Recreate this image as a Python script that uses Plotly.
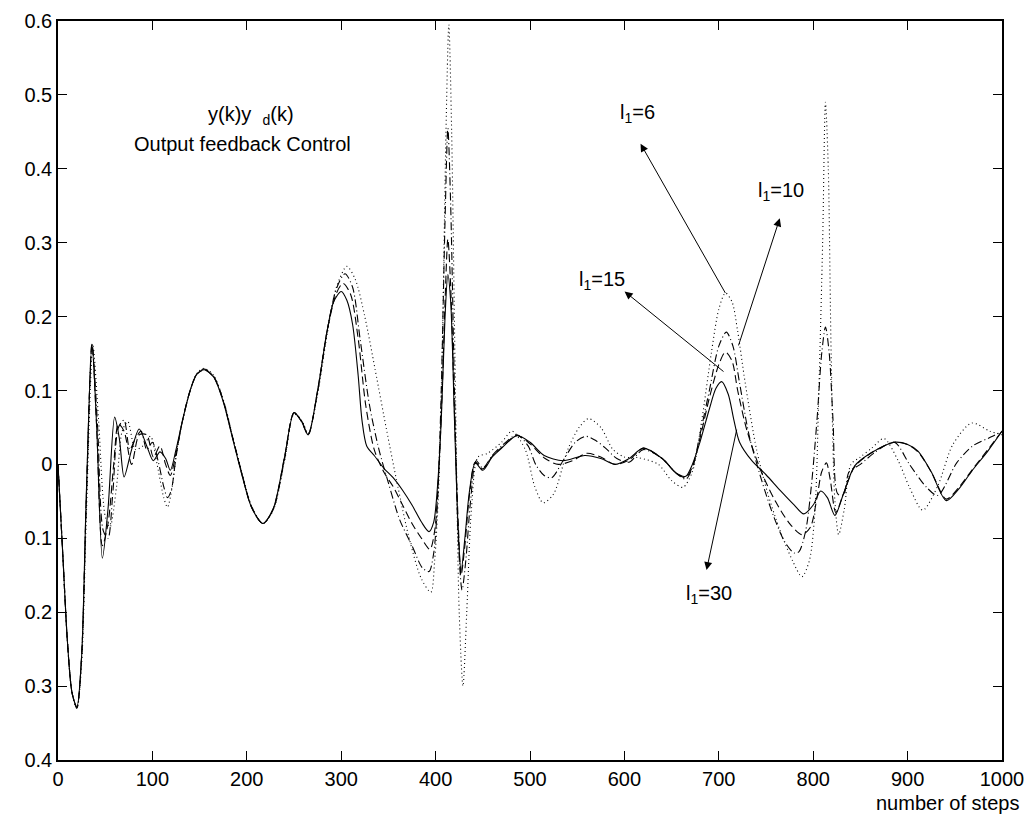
import plotly.graph_objects as go

# ---------------- data ----------------
x_l30 = [0,5,10,15,20,25,30,36,41,47,53,60,65,70,78,86,94,101,108,114,119,125,132,140,147,155,165,175,185,195,205,217,228,240,250,258,265,275,285,292,300,306,312,318,322,327,335,345,355,365,375,385,393,398,402,406,410,413,416,420,424,427,431,436,442,450,460,470,486,500,515,535,558,575,590,605,620,640,655,665,672,680,690,697,703,710,716,722,735,750,765,780,790,800,808,815,823,832,844,862,886,900,911,925,941,955,968,985,1000]
y_l30 = [0,-0.12,-0.24,-0.31,-0.328,-0.26,-0.04,0.163,0.05,-0.127,-0.06,0.064,0.035,-0.017,0.02,0.048,0.025,0.005,0.017,0.008,-0.008,0.02,0.06,0.1,0.122,0.128,0.118,0.085,0.035,-0.015,-0.058,-0.08,-0.06,0.01,0.07,0.058,0.04,0.1,0.18,0.22,0.234,0.222,0.19,0.12,0.06,0.025,0.012,-0.005,-0.018,-0.035,-0.055,-0.078,-0.091,-0.078,-0.03,0.06,0.2,0.257,0.22,0.06,-0.09,-0.145,-0.1,-0.035,0.002,-0.008,0.01,0.022,0.039,0.03,0.012,0.005,0.012,0.008,0.0,0.008,0.022,0.008,-0.012,-0.016,0.0,0.03,0.075,0.103,0.112,0.095,0.06,0.03,0.005,-0.014,-0.035,-0.055,-0.067,-0.055,-0.036,-0.045,-0.069,-0.04,-0.002,0.016,0.03,0.027,0.018,-0.01,-0.049,-0.032,-0.009,0.018,0.045]

x_l15 = [0,5,10,15,20,25,30,36,41,47,53,59,64,70,78,86,94,101,108,114,119,125,132,140,147,155,165,175,185,195,205,217,228,240,250,258,265,275,285,295,302,310,318,326,335,345,355,365,375,385,394,399,403,407,410,413,416,420,424,427,431,436,442,450,460,470,486,500,516,530,545,560,575,590,605,620,640,655,665,672,680,690,700,707,714,720,730,745,760,775,788,797,804,809,814,818,824,832,844,862,886,900,911,925,941,955,968,985,1000]
y_l15 = [0,-0.12,-0.24,-0.31,-0.329,-0.26,-0.045,0.163,0.05,-0.11,-0.08,0.0,0.055,0.045,0.0,0.04,0.04,0.01,0.025,0.0,-0.015,0.015,0.06,0.1,0.122,0.128,0.118,0.086,0.036,-0.014,-0.058,-0.08,-0.06,0.01,0.07,0.058,0.04,0.1,0.18,0.232,0.245,0.23,0.17,0.08,0.02,-0.01,-0.03,-0.055,-0.08,-0.1,-0.115,-0.09,-0.02,0.1,0.22,0.305,0.24,0.07,-0.08,-0.15,-0.11,-0.04,0.003,-0.006,0.011,0.023,0.039,0.028,0.008,0.0,0.005,0.015,0.01,0.0,0.006,0.022,0.008,-0.012,-0.018,-0.003,0.035,0.09,0.135,0.152,0.14,0.1,0.045,-0.01,-0.05,-0.08,-0.095,-0.085,-0.045,-0.01,0.002,-0.02,-0.065,-0.04,-0.003,0.016,0.03,0.027,0.017,-0.01,-0.047,-0.03,-0.008,0.02,0.045]

x_l10 = [0,5,10,15,20,25,30,36,42,48,53,58,64,70,76,82,88,94,100,106,112,116,120,125,132,140,147,155,165,175,185,195,205,217,228,240,250,258,265,275,285,295,304,312,320,330,340,350,362,375,386,393,398,402,406,410,413,416,420,424,428,432,437,443,450,460,470,486,498,506,515,523,535,548,559,570,580,592,605,620,640,655,665,672,680,690,700,708,715,722,732,745,758,770,780,785,792,798,804,809,813,817,821,826,832,838,850,865,886,902,920,932,952,969,990,1000]
y_l10 = [0,-0.12,-0.24,-0.31,-0.33,-0.26,-0.05,0.163,0.05,-0.09,-0.1,-0.04,0.05,0.06,0.02,0.035,0.045,0.02,0.03,0.005,-0.03,-0.045,-0.035,0.01,0.06,0.1,0.122,0.129,0.119,0.087,0.037,-0.013,-0.057,-0.08,-0.061,0.007,0.07,0.059,0.041,0.098,0.18,0.238,0.258,0.24,0.17,0.08,0.02,-0.025,-0.075,-0.11,-0.14,-0.145,-0.12,-0.05,0.1,0.33,0.455,0.35,0.1,-0.1,-0.17,-0.13,-0.05,0.005,-0.005,0.012,0.025,0.04,0.025,0.0,-0.015,-0.018,0.005,0.03,0.038,0.032,0.022,0.008,0.003,0.02,0.008,-0.012,-0.02,-0.005,0.04,0.1,0.16,0.179,0.16,0.11,0.04,-0.02,-0.07,-0.105,-0.12,-0.118,-0.09,-0.03,0.06,0.15,0.186,0.15,0.06,-0.04,-0.042,-0.01,0.0,0.016,0.03,0.0,-0.031,-0.042,0.002,0.025,0.038,0.045]

x_l6 = [0,5,10,15,20,25,30,37,43,50,55,62,68,74,82,90,98,105,112,116,121,126,132,140,147,155,165,175,185,195,205,217,228,240,250,258,265,275,285,295,306,315,325,336,348,360,372,385,395,399,403,407,411,414,417,421,425,429,433,438,445,455,470,481,495,505,514,525,540,552,562,575,588,600,615,636,650,662,672,682,692,700,707,714,720,728,740,752,765,778,788,796,802,806,810,813,816,819,823,827,833,840,850,862,875,890,902,916,932,948,968,987,1000]
y_l6 = [0,-0.12,-0.24,-0.31,-0.33,-0.27,-0.07,0.16,0.06,-0.07,-0.085,-0.03,0.045,0.058,0.02,0.025,0.038,0.0,-0.045,-0.058,-0.03,0.02,0.06,0.1,0.123,0.13,0.12,0.088,0.038,-0.012,-0.056,-0.08,-0.062,0.005,0.068,0.06,0.042,0.095,0.175,0.24,0.268,0.25,0.2,0.128,0.047,-0.03,-0.1,-0.155,-0.173,-0.13,-0.04,0.15,0.45,0.595,0.45,0.1,-0.2,-0.3,-0.2,-0.06,0.01,0.015,0.03,0.045,0.02,-0.03,-0.052,-0.04,0.02,0.05,0.062,0.05,0.02,0.01,0.009,0.0,-0.022,-0.031,-0.01,0.06,0.15,0.21,0.232,0.22,0.18,0.11,0.02,-0.04,-0.09,-0.13,-0.152,-0.13,-0.06,0.1,0.3,0.49,0.4,0.15,-0.05,-0.095,-0.06,0.0,0.01,0.022,0.035,0.005,-0.031,-0.062,-0.029,0.027,0.056,0.045,0.04]

x_ticks = [0,100,200,300,400,500,600,700,800,900,1000]
y_ticks = [-0.4,-0.3,-0.2,-0.1,0,0.1,0.2,0.3,0.4,0.5,0.6]
y_ticktext = ["0.4","0.3","0.2","0.1","0","0.1","0.2","0.3","0.4","0.5","0.6"]

label_text = ["l<sub>1</sub>=6", "l<sub>1</sub>=10", "l<sub>1</sub>=15", "l<sub>1</sub>=30"]
label_x = [613.5, 765.7, 575.9, 689.1]
label_y = [0.475, 0.369, 0.249, -0.176]
arrow_tip_x = [617.1, 764.6, 600.2, 687.0]
arrow_tip_y = [0.434, 0.333, 0.234, -0.143]
arrow_tail_x = [707.8, 720.4, 706.6, 719.3]
arrow_tail_y = [0.230, 0.159, 0.124, 0.049]

FONT = "Liberation Sans, Arial, Helvetica, sans-serif"
FS = 20

fig = go.Figure()
series = [
    (x_l6, y_l6, "1px,3px", "l1=6"),
    (x_l10, y_l10, "8px,3px,1px,3px", "l1=10"),
    (x_l15, y_l15, "8px,4px", "l1=15"),
    (x_l30, y_l30, "solid", "l1=30"),
]
for xs, ys, dash, name in series:
    fig.add_trace(go.Scatter(x=xs, y=ys, mode="lines", name=name,
                             line=dict(color="black", width=1.1, dash=dash, shape="spline", smoothing=0.8),
                             hoverinfo="skip"))

annotations = []
for t, lx, ly in zip(label_text, label_x, label_y):
    annotations.append(dict(x=lx, y=ly, xref="x", yref="y", text=t, showarrow=False,
                            font=dict(family=FONT, size=FS, color="black")))
for tx, ty, ax, ay in zip(arrow_tip_x, arrow_tip_y, arrow_tail_x, arrow_tail_y):
    annotations.append(dict(x=tx, y=ty, ax=ax, ay=ay, xref="x", yref="y", axref="x", ayref="y",
                            text="", showarrow=True, arrowhead=2, arrowsize=1.6, arrowwidth=1,
                            arrowcolor="black", standoff=0, startstandoff=0))
annotations.append(dict(x=204.7, y=0.472, xref="x", yref="y",
                        text="y(k)y\u00a0\u00a0<sub>d</sub>(k)", showarrow=False,
                        font=dict(family=FONT, size=FS, color="black")))
annotations.append(dict(x=195.7, y=0.434, xref="x", yref="y",
                        text="Output feedback Control", showarrow=False,
                        font=dict(family=FONT, size=FS, color="black")))
annotations.append(dict(x=1.0, y=0, xref="paper", yref="paper", xanchor="right", yanchor="top",
                        yshift=-30, xshift=19,
                        text="number of steps", showarrow=False,
                        font=dict(family=FONT, size=FS, color="black")))

fig.update_layout(
    width=1034, height=815,
    margin=dict(l=58, r=28, t=10, b=55),
    paper_bgcolor="white", plot_bgcolor="white",
    showlegend=False,
    font=dict(family=FONT, size=FS, color="black"),
    annotations=annotations,
)
fig.update_xaxes(range=[0, 1000], tickvals=x_ticks, ticks="inside", ticklen=9, tickwidth=1,
                 tickcolor="black", showline=True, linecolor="black", linewidth=1.5, mirror="ticks",
                 showgrid=False, zeroline=False, tickfont=dict(family=FONT, size=FS, color="black"))
fig.update_yaxes(range=[-0.4, 0.6], tickvals=y_ticks, ticktext=y_ticktext, ticks="inside", ticklen=9,
                 tickwidth=1, tickcolor="black", showline=True, linecolor="black", linewidth=1.5,
                 mirror="ticks", showgrid=False, zeroline=False,
                 tickfont=dict(family=FONT, size=FS, color="black"))

fig.write_html("out.html")
